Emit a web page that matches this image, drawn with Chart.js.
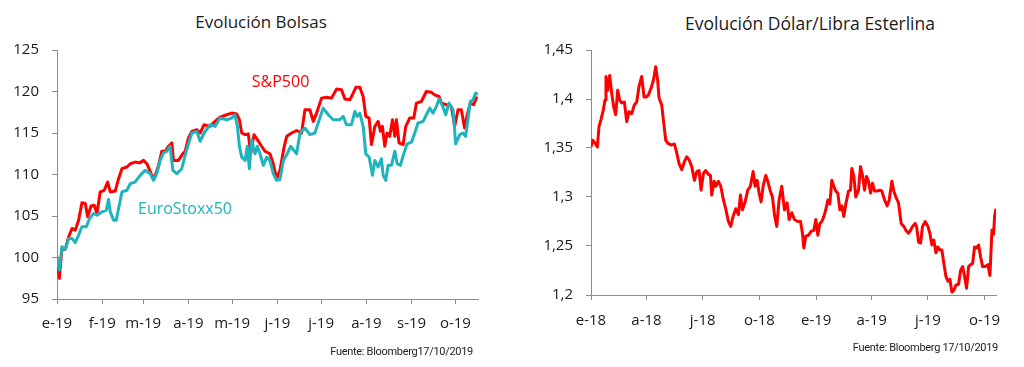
<!DOCTYPE html>
<html>
<head>
<meta charset="utf-8">
<script src="https://cdn.jsdelivr.net/npm/chart.js@4/dist/chart.umd.min.js"></script>
<style>
  body { margin: 0; background: #fff; width: 1024px; height: 367px; overflow: hidden; position: relative; font-family: 'Open Sans', sans-serif; }
  canvas { position: absolute; top: 0; }
  .title { position: absolute; text-align: center; font-size: 17px; line-height: 20px; color: #1a1a1a; }
  .source { position: absolute; font-family: Roboto, sans-serif; font-size: 11px; line-height: 14px; color: #222; text-align: right; letter-spacing: -0.3px; }
</style>
</head>
<body>
<div class="title" style="left:0; width:522px; top:12px;">Evolución Bolsas</div>
<div class="title" style="left:600px; width:420px; top:13px; font-size:17.5px;">Evolución Dólar/Libra Esterlina</div>
<canvas id="bolsas" width="512" height="367" style="left:0"></canvas>
<canvas id="libra" width="512" height="367" style="left:512px"></canvas>
<div class="source" style="right:551px; top:345px;">Fuente: Bloomberg17/10/2019</div>
<div class="source" style="right:26px; top:341px;">Fuente: Bloomberg 17/10/2019</div>
<script>
// days counted from 1 Jan 2019
const bolsasTickDays = [0, 31, 59, 90, 120, 151, 181, 212, 243, 273];
const bolsasTickLabels = ['e-19', 'f-19', 'm-19', 'a-19', 'm-19', 'j-19', 'j-19', 'a-19', 's-19', 'o-19'];

const spDays = [0,1.6,3.4,5.7,8,10.3,12.5,14.8,17.1,19.4,21,23.3,25.5,27.4,29.6,32.4,34.7,36.5,39.9,42.2,44.5,47.9,50.2,53.6,56.6,59.3,61.6,65,66.6,69.6,71.8,74.1,76.4,78.7,79.8,83.2,86.2,87.8,90.1,92.4,95.8,98.1,100.8,104.9,108.3,111.7,116.3,119.7,123.1,125,126.6,128.9,131.1,132.7,135,137.3,140.2,142.5,145.9,148.2,150.5,152.8,155.5,157.4,160.8,164.2,167.6,169.9,173.3,175.6,177.9,181.3,184.7,188.1,191.6,195,197.3,200.7,203,204.8,207.5,209.8,211.6,213.9,215.5,217.8,220.1,221.7,223,224.6,226.2,228,229.9,231.5,232.6,234.4,237.2,239,241.7,244.5,246.3,249.7,253.1,256.6,258.8,261.8,263.4,266.8,270.2,272.5,274.8,277.1,279.3,280.9,283.2,285.5,287.8];
const spValues = [100.1,97.5,101.1,101,102.5,103.5,103.3,104.5,106.6,106.5,104.9,106.2,106.3,105.3,107.9,108.1,109.1,107.9,108,109.5,110.7,110.9,111.3,111.5,111.4,111.7,111.3,109.9,109.5,111.1,112.8,112.8,113.4,113.8,111.7,111.7,112.5,112.8,114.4,115.2,115.4,115,116,115.8,116.4,116.9,117.2,117.4,117.3,116.6,115,114.8,114.9,112.5,114.8,114.2,113.4,112.8,112.5,111.3,109.5,110.5,113.2,114.6,115,115.3,115,117.8,117.8,116.4,117.4,119.2,119.3,119.2,120.3,120.2,119.1,119,119.8,120.5,120.5,119.4,117,116.8,113.6,115.8,116.4,115.2,115.8,113.4,115,114.6,116.6,114.6,116.6,113.8,113.6,115.8,116.8,116.8,118.6,118.8,120,119.9,119.6,119.4,118.6,118.4,118.2,115.8,117.8,117.8,115.6,117,118.6,118.4,119.4];

const stoxxDays = [0,1.6,3.4,5.7,8,10.3,12.5,14.8,17.1,20.1,22.3,25.1,27.4,30.8,33.8,35.3,36.5,38.8,40.6,42.2,44.5,47.9,50.2,53.6,57,60.4,63.9,66.1,68.4,70.7,73,75.3,77.5,79.4,82.1,85.5,87.8,90.1,92.4,95.8,98.1,100.8,104.9,108.3,111.7,116.3,119.7,122,123.6,125,126.6,128.9,130.4,131.8,133.4,135.7,137.3,139.1,141.4,143.7,145.9,148.2,150.5,152.8,155.1,157.8,160.1,161.9,164.2,166.5,169.9,173.3,176.7,179,182.4,185.9,189.3,193.8,196.1,198.4,201.8,204.1,205.7,207.5,209.8,211.6,213.9,216.2,217.8,220.1,222.3,223.5,225.3,226.9,229.2,231.5,233.1,235.3,237.6,239.9,242.9,245.2,247.4,250.9,253.1,255.4,257.7,260,261.8,264.1,266.4,268.6,271.4,273.2,276,278.2,280,281.6,283.2,285.1,286.9,288.5];
const stoxxValues = [100,98.5,101.3,101,102.3,102.3,101.8,102.7,103.7,103.7,104.7,105.3,105.1,105.5,105.7,107,105.5,104.5,104.5,105.9,107.9,108.1,108.9,109.1,109.9,110.5,110.1,109.3,110.1,111.7,112.6,112.8,113.4,110.5,110.1,110.7,112.3,113.7,115,115.2,114,115,116,115.8,116.8,116.6,116.8,117.2,115.8,113.4,112.1,111.7,113.4,110.7,114.2,112.5,113.4,112.5,111.1,112.1,111.7,110.1,109.3,109.4,111.7,112.5,113.4,113,112.5,115,115.6,114.8,115,116.2,118,117.2,116.6,116.6,117,116,116,117.6,117,117.4,115.8,112.5,112.1,109.9,111.7,110.9,111.9,109.9,109.3,111.1,111.1,112.8,111.3,111.1,112.5,113.7,113.9,115,116.2,116.4,117.2,118,117.4,118.2,119.1,118.3,117.2,118.6,117.8,113.7,114.8,115,114.6,116.6,118.8,119,119.8,119.7];

// days counted from 1 Jan 2018
const libraTickDays = [0, 90, 181, 273, 365, 455, 546, 638];
const libraTickLabels = ['e-18', 'a-18', 'j-18', 'o-18', 'e-19', 'a-19', 'j-19', 'o-19'];

const gbpDays = [0,2.7,6.5,10.3,13,16.2,20,22.7,24.3,27,30.3,33.5,36.8,40,43.3,46.5,49.7,54.1,57.9,61.6,66,70.3,74.1,77.9,82.2,86,89.2,93,97.3,101.1,104.9,108.1,110.3,114.6,117.3,121.1,124.4,129.8,135.2,139,142.7,147.1,151.4,155.2,159,163.3,167.6,171.4,175.2,178.4,182.2,186,190.3,193.6,195.7,199.5,202.2,206.5,210.3,214.7,218.4,222.8,226.5,230.3,234.7,239,242.2,245.5,249.8,254.1,258.4,262.8,266,269.3,272.5,275.7,279,283.3,286.6,290.3,294.1,297.4,301.1,304.9,309.2,313.6,317.9,321.2,325.5,329.8,335.2,339.6,342.8,345,348.2,352.5,356.8,361.2,364.4,367.7,370.9,374.2,377.4,380.6,383.9,387.1,390.4,393.6,396.9,400.1,403.4,406.6,409.8,413.1,417.4,420.7,422.8,426.1,429.3,433.6,436.9,440.1,443.4,446.6,449.8,453.1,456.3,459.6,463.9,468.2,471.5,475.8,480.1,483.4,487.7,490.9,494.2,498.5,502.8,507.2,510.4,514.7,518,521.2,525.5,527.7,531,534.2,537.4,541.8,546.1,549.3,552.6,555.8,559.1,562.3,565.6,568.8,572,575.3,578.5,581.8,585,588.3,591.5,595.8,599.1,602.3,605.6,608.8,612.1,615.3,618.5,621.8,625,628.3,631.5,634.8,639.1,643.4,646.7,649.9,652.6,654.2,656.4];
const gbpValues = [1.351,1.358,1.355,1.351,1.372,1.379,1.389,1.399,1.423,1.409,1.424,1.406,1.392,1.384,1.409,1.399,1.396,1.397,1.377,1.387,1.385,1.394,1.397,1.413,1.423,1.402,1.402,1.404,1.411,1.419,1.433,1.419,1.401,1.394,1.379,1.358,1.355,1.353,1.354,1.345,1.334,1.328,1.336,1.341,1.338,1.331,1.317,1.326,1.327,1.307,1.324,1.327,1.323,1.322,1.302,1.316,1.311,1.316,1.311,1.297,1.288,1.275,1.27,1.28,1.288,1.282,1.302,1.287,1.295,1.307,1.311,1.326,1.311,1.317,1.304,1.295,1.311,1.322,1.316,1.307,1.3,1.282,1.27,1.297,1.311,1.287,1.294,1.277,1.284,1.277,1.275,1.275,1.263,1.248,1.26,1.261,1.265,1.266,1.277,1.261,1.273,1.275,1.28,1.287,1.297,1.293,1.317,1.311,1.306,1.304,1.287,1.291,1.28,1.293,1.306,1.307,1.329,1.321,1.3,1.307,1.331,1.322,1.307,1.321,1.316,1.304,1.314,1.306,1.306,1.307,1.306,1.297,1.291,1.297,1.316,1.306,1.3,1.294,1.273,1.27,1.266,1.263,1.266,1.27,1.273,1.27,1.254,1.253,1.27,1.275,1.27,1.263,1.251,1.256,1.243,1.249,1.246,1.246,1.232,1.219,1.214,1.216,1.203,1.205,1.21,1.211,1.225,1.229,1.219,1.207,1.229,1.231,1.232,1.249,1.248,1.251,1.239,1.229,1.229,1.231,1.22,1.266,1.262,1.28,1.288];

const RED = '#ff0000';
const TEAL = '#1fb4bd';
const AXIS = '#8c8c8c';

Chart.defaults.font.family = "'Open Sans', sans-serif";
Chart.defaults.color = '#1a1a1a';

const toPoints = (xs, ys) => xs.map((x, i) => ({ x: x, y: ys[i] }));

// writes the series names next to the lines, anchored in data coordinates
const seriesLabels = {
  id: 'seriesLabels',
  afterDatasetsDraw(chart, args, opts) {
    const ctx = chart.ctx;
    ctx.save();
    ctx.font = "16px 'Open Sans', sans-serif";
    ctx.textBaseline = 'middle';
    ctx.textAlign = 'left';
    (opts.items || []).forEach(item => {
      ctx.fillStyle = item.color;
      ctx.fillText(item.text, chart.scales.x.getPixelForValue(item.x), chart.scales.y.getPixelForValue(item.y));
    });
    ctx.restore();
  }
};

const makeChart = (id, cfg) => new Chart(document.getElementById(id), {
  type: 'line',
  data: { datasets: cfg.datasets },
  options: {
    responsive: false,
    animation: false,
    devicePixelRatio: 1,
    layout: { padding: cfg.padding },
    elements: { point: { radius: 0 }, line: { borderWidth: 3, tension: 0, borderJoinStyle: 'round' } },
    plugins: { legend: { display: false }, tooltip: { enabled: false }, seriesLabels: { items: cfg.labels } },
    scales: {
      x: {
        type: 'linear',
        min: 0,
        max: cfg.xMax,
        afterFit: (scale) => { scale.height = 40; },
        afterBuildTicks: (axis) => { axis.ticks = cfg.tickDays.map(v => ({ value: v })); },
        grid: { drawOnChartArea: false, color: AXIS, tickLength: 5 },
        border: { color: AXIS },
        ticks: {
          autoSkip: false,
          maxRotation: 0,
          padding: cfg.xPad,
          font: { size: 15 },
          callback: (v) => cfg.tickLabels[cfg.tickDays.indexOf(v)]
        }
      },
      y: {
        min: cfg.yMin,
        max: cfg.yMax,
        afterFit: (scale) => { scale.width = cfg.yWidth; },
        grid: { drawOnChartArea: false, color: AXIS, tickLength: 5 },
        border: { color: AXIS },
        ticks: { stepSize: cfg.yStep, padding: 13, font: { size: 15 }, callback: cfg.yFormat }
      }
    }
  },
  plugins: [seriesLabels]
});

makeChart('bolsas', {
  datasets: [
    { data: toPoints(stoxxDays, stoxxValues), borderColor: TEAL, order: 0 },
    { data: toPoints(spDays, spValues), borderColor: RED, order: 1 }
  ],
  labels: [
    { text: 'S&P500', x: 133.5, y: 121.1, color: RED },
    { text: 'EuroStoxx50', x: 55.5, y: 105.8, color: TEAL }
  ],
  padding: { left: 0, top: 50, right: 34, bottom: 28 },
  xMax: 288.5,
  xPad: 11,
  tickDays: bolsasTickDays,
  tickLabels: bolsasTickLabels,
  yMin: 95, yMax: 125, yStep: 5, yWidth: 57,
  yFormat: (v) => v
});

makeChart('libra', {
  datasets: [
    { data: toPoints(gbpDays, gbpValues), borderColor: RED }
  ],
  labels: [],
  padding: { left: 0, top: 50, right: 28, bottom: 32 },
  xMax: 656.5,
  xPad: 12,
  tickDays: libraTickDays,
  tickLabels: libraTickLabels,
  yMin: 1.2, yMax: 1.45, yStep: 0.05, yWidth: 79,
  yFormat: (v) => String(+v.toFixed(2)).replace('.', ',')
});
</script>
</body>
</html>
